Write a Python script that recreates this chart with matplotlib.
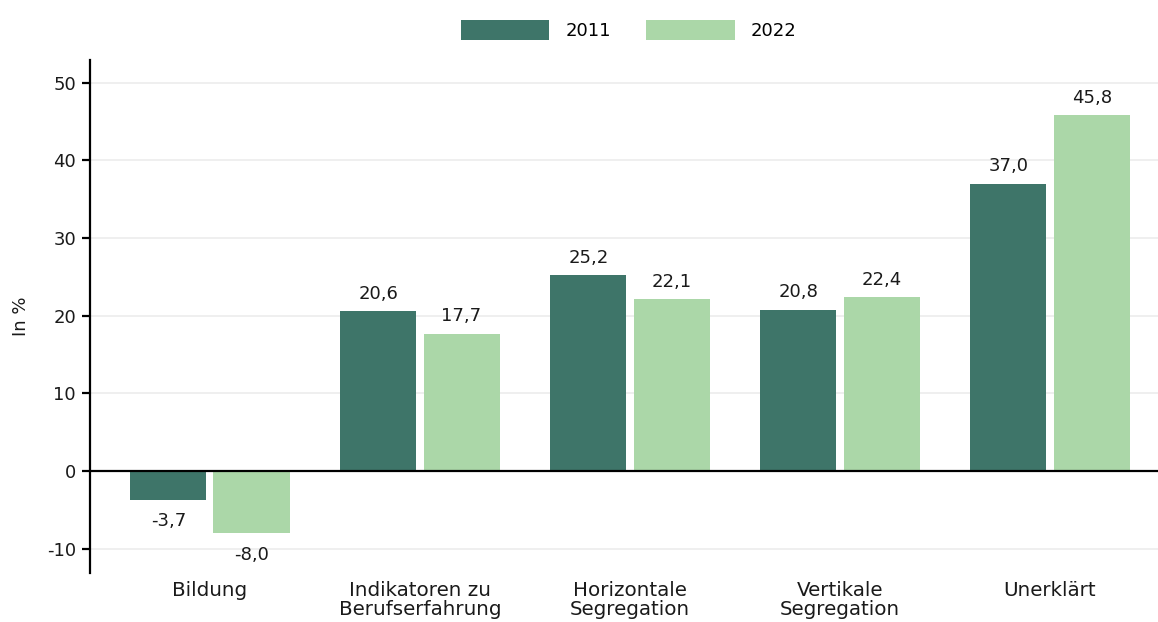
import numpy as np
import matplotlib
matplotlib.use("Agg")
import matplotlib.pyplot as plt
from matplotlib.patches import Patch

plt.rcParams["font.family"] = ["DejaVu Sans"]

categories = [
    "Bildung",
    "Indikatoren zu\nBerufserfahrung",
    "Horizontale\nSegregation",
    "Vertikale\nSegregation",
    "Unerklärt",
]
years = ["2011", "2022"]
values_2011 = [-3.7, 20.6, 25.2, 20.8, 37.0]
values_2022 = [-8.0, 17.7, 22.1, 22.4, 45.8]
yticks = [-10, 0, 10, 20, 30, 40, 50]

dark = "#3e7569"
light = "#abd7a8"
text_col = "#1a1a1a"


def fmt(v):
    return ("%.1f" % v).replace(".", ",")


fig = plt.figure(figsize=(11.58, 6.22), dpi=100)
ax = fig.add_axes([0.0777, 0.0788, 0.9223, 0.8247])

x = np.arange(len(categories))
width = 0.362
offset = 0.198

for vals, col, sign in [(values_2011, dark, -1), (values_2022, light, 1)]:
    bars = ax.bar(x + sign * offset, vals, width, color=col, zorder=2)
    for b, v in zip(bars, vals):
        xc = b.get_x() + b.get_width() / 2
        if v >= 0:
            ax.annotate(fmt(v), (xc, v), xytext=(0, 6), textcoords="offset points",
                        ha="center", va="bottom", fontsize=13, color=text_col)
        else:
            ax.annotate(fmt(v), (xc, v), xytext=(0, -9), textcoords="offset points",
                        ha="center", va="top", fontsize=13, color=text_col)

ax.axhline(0, color="black", lw=1.6, zorder=3)

ax.set_xlim(-0.571, 4.514)
ax.set_ylim(-13.1, 52.9)
ax.set_yticks(yticks)
ax.set_yticklabels([str(t) for t in yticks], fontsize=13, color=text_col)
ax.set_xticks(x)
ax.set_xticklabels(categories, fontsize=14.3, linespacing=0.95, color=text_col)
ax.tick_params(axis="x", length=0, pad=6)
ax.tick_params(axis="y", length=6, width=1.6, pad=4)
ax.grid(axis="y", color="#ececec", lw=1.2, zorder=0)
ax.set_axisbelow(True)

for s in ["top", "right", "bottom"]:
    ax.spines[s].set_visible(False)
ax.spines["left"].set_linewidth(1.6)

ax.set_ylabel("In %", fontsize=13, labelpad=12, color=text_col)

handles = [Patch(facecolor=dark, label=years[0]), Patch(facecolor=light, label=years[1])]
fig.legend(handles=handles, loc="center", bbox_to_anchor=(0.543, 0.952), ncol=2,
           frameon=False, fontsize=13, handlelength=4.9, handleheight=1.3,
           columnspacing=1.95, handletextpad=0.9)

fig.savefig("out.png", dpi=100)
